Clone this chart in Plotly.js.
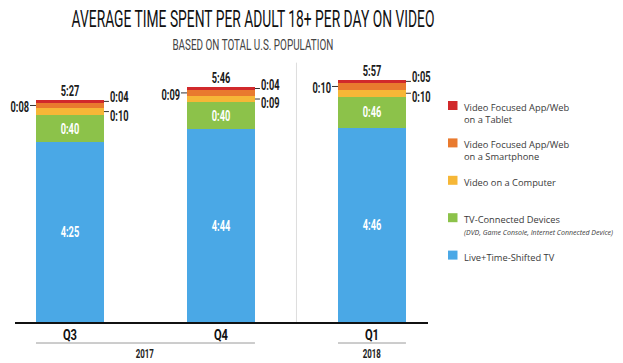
<!DOCTYPE html>
<html><head><meta charset="utf-8">
<script src="https://cdn.plot.ly/plotly-3.0.1.min.js"></script>
<style>html,body{margin:0;padding:0;background:#fff}</style>
</head><body><div id="chart" style="width:623px;height:363px"></div>
<script>
// ---- data (minutes per day) ----
const categories = ['Q3', 'Q4', 'Q1'];
const years = ['2017', '2017', '2018'];
const liveTV = [265, 284, 286];
const tvConnected = [40, 40, 46];
const computer = [10, 9, 10];
const smartphone = [8, 9, 10];
const tablet = [4, 4, 5];
const seriesNames = ['Live+Time-Shifted TV', 'TV-Connected Devices', 'Video on a Computer',
  'Video Focused App/Web<br>on a Smartphone', 'Video Focused App/Web<br>on a Tablet'];
const seriesNotes = ['', '(DVD, Game Console, Internet Connected Device)', '', '', ''];
const colors = ['#4aa8e6', '#8cc24a', '#f6b737', '#e97a2e', '#d1292b'];
const titleText = 'AVERAGE TIME SPENT PER ADULT 18+ PER DAY ON VIDEO';
const subtitleText = 'BASED ON TOTAL U.S. POPULATION';

// ---- helpers ----
const COND = "Roboto,'Liberation Sans',sans-serif";
const LEG = "'Open Sans','Noto Sans',sans-serif";
const SQ = 0.66; // horizontal squeeze for condensed look
const W = 623, H = 363, L = 15, R = 195, T = 60, B = 41;
const PW = W - L - R, PH = H - T - B;
const px2x = p => (p - L) / PW;
const py2y = p => (H - B - p) / PH;
const fmt = m => Math.floor(m / 60) + ':' + String(m % 60).padStart(2, '0');
const bw = 0.45;
const idx = categories.map((_, i) => i);

const series = [liveTV, tvConnected, computer, smartphone, tablet];
const traces = series.map((vals, k) => ({
  type: 'bar', x: idx, y: vals, width: bw, name: seriesNames[k],
  marker: {color: colors[k], line: {width: 0}},
  text: k < 2 ? vals.map(fmt) : null,
  textposition: k < 2 ? 'inside' : 'none',
  insidetextanchor: 'middle', textangle: 0, constraintext: 'none',
  textfont: {family: COND, size: 14, color: '#ffffff', weight: 'bold'},
  hoverinfo: 'skip', showlegend: false
}));

const totals = idx.map(i => series.reduce((s, a) => s + a[i], 0));
const annotations = [];
const shapes = [];
const lblFont = {family: COND, size: 14, color: '#1a1a1a', weight: 'bold'};

idx.forEach(i => {
  annotations.push({name: 'cond', x: i, y: totals[i], xref: 'x', yref: 'y', text: fmt(totals[i]),
    showarrow: false, yanchor: 'bottom', yshift: -1, font: lblFont});
  const base3 = liveTV[i] + tvConnected[i];
  const midComp = base3 + computer[i] / 2;
  const midSmart = base3 + computer[i] + smartphone[i] / 2;
  const midTab = totals[i] - tablet[i] / 2;
  const left = i - bw / 2, right = i + bw / 2;
  shapes.push({type: 'line', xref: 'x', yref: 'y', xsizemode: 'pixel', xanchor: left,
    x0: -6, x1: 0, y0: midSmart, y1: midSmart, line: {color: '#333', width: 1}});
  annotations.push({name: 'cond', x: left, y: midSmart, xref: 'x', yref: 'y', text: fmt(smartphone[i]),
    showarrow: false, xanchor: 'right', xshift: -5, yshift: -2, font: lblFont});
  shapes.push({type: 'line', xref: 'x', yref: 'y', xsizemode: 'pixel', xanchor: right,
    x0: 0, x1: 5, y0: midTab, y1: midTab, line: {color: '#333', width: 1}});
  annotations.push({name: 'cond', x: right, y: midTab, xref: 'x', yref: 'y', text: fmt(tablet[i]),
    showarrow: false, xanchor: 'left', xshift: 4, yshift: 4, font: lblFont});
  shapes.push({type: 'line', xref: 'x', yref: 'y', xsizemode: 'pixel', xanchor: right,
    x0: 0, x1: 5, y0: midComp, y1: midComp, line: {color: '#333', width: 1}});
  annotations.push({name: 'cond', x: right, y: midComp, xref: 'x', yref: 'y', text: fmt(computer[i]),
    showarrow: false, xanchor: 'left', xshift: 4, yshift: -4, font: lblFont});
});

// year grouping
const uniqYears = [...new Set(years)];
uniqYears.forEach(yr => {
  const ids = idx.filter(i => years[i] === yr);
  const a = Math.min(...ids), b = Math.max(...ids);
  shapes.push({type: 'line', xref: 'x', yref: 'paper', x0: a - bw / 2, x1: b + bw / 2,
    y0: py2y(343), y1: py2y(343), line: {color: '#9a9a9a', width: 1}});
  annotations.push({name: 'cond', x: (a + b) / 2, y: py2y(353.5), xref: 'x', yref: 'paper', text: yr,
    showarrow: false, yanchor: 'middle', font: {family: COND, size: 12, color: '#222', weight: 'bold'}});
});
for (let i = 1; i < years.length; i++) {
  if (years[i] !== years[i - 1]) {
    shapes.push({type: 'line', xref: 'x', yref: 'paper', x0: i - 0.5, x1: i - 0.5, y0: 0, y1: 0.99,
      line: {color: '#dedede', width: 1}, layer: 'below'});
  }
}

// custom legend (top-down: reverse stack order)
const order = [4, 3, 2, 1, 0];
order.forEach((k, j) => {
  const cy = 105.5 + j * 37.4;
  shapes.push({type: 'rect', xref: 'paper', yref: 'paper', x0: px2x(448), x1: px2x(457.5),
    y0: py2y(cy - 4.5), y1: py2y(cy + 4.5), fillcolor: colors[k], line: {width: 0}});
  let txt = seriesNames[k];
  if (seriesNotes[k]) txt += '<br><i><span style="font-size:7px">' + seriesNotes[k] + '</span></i>';
  annotations.push({name: 'leg', xref: 'paper', yref: 'paper', x: px2x(462), y: py2y(cy - 6.5),
    xanchor: 'left', yanchor: 'top', align: 'left', showarrow: false, text: txt,
    font: {family: LEG, size: 9.3, color: '#3a3a3a'}});
});

// subtitle
annotations.push({name: 'sub', xref: 'paper', yref: 'paper', x: px2x(253), y: py2y(45), yanchor: 'middle',
  showarrow: false, text: subtitleText,
  font: {family: COND, size: 15, color: '#444'}});

const layout = {
  width: W, height: H, margin: {l: L, r: R, t: T, b: B},
  paper_bgcolor: '#fff', plot_bgcolor: '#fff',
  barmode: 'stack', bargap: 0, showlegend: false,
  title: {text: titleText,
    font: {family: COND, size: 24, color: '#111'},
    xref: 'paper', x: px2x(253), xanchor: 'center', yref: 'container', y: 1 - 19 / H, yanchor: 'middle'},
  xaxis: {range: [-0.364, 2.371], tickvals: idx, ticktext: categories, ticks: '',
    ticklabelstandoff: -3,
    showline: true, linewidth: 2, linecolor: '#111', showgrid: false, zeroline: false,
    tickfont: {family: COND, size: 15.5, color: '#111', weight: 'bold'}, fixedrange: true},
  yaxis: {range: [0, 386], visible: false, fixedrange: true},
  annotations, shapes
};

// horizontal squeeze of text to imitate the condensed display face
function squeeze(el, s, mode) {
  const bb = el.getBBox();
  const cx = mode === 'left' ? bb.x : mode === 'right' ? bb.x + bb.width : bb.x + bb.width / 2;
  const prev = el.getAttribute('transform') || '';
  el.setAttribute('transform', prev + ' translate(' + cx + ',0) scale(' + s + ',1) translate(' + (-cx) + ',0)');
}

const gd = document.getElementById('chart');
Plotly.newPlot(gd, traces, layout, {displayModeBar: false, staticPlot: true}).then(() => {
  const t = gd.querySelector('.gtitle');
  if (t) squeeze(t, 363 / t.getBBox().width, 'center');
  gd.querySelectorAll('g.annotation').forEach(g => {
    const i = +g.getAttribute('data-index');
    const a = gd.layout.annotations[i];
    const txt = g.querySelector('text');
    if (!a || !txt) return;
    if (a.name === 'cond') squeeze(txt, SQ, a.xanchor || 'center');
    else if (a.name === 'sub') squeeze(txt, 161 / txt.getBBox().width, 'center');
  });
  gd.querySelectorAll('.xtick text').forEach(el => squeeze(el, 0.72, 'center'));
  gd.querySelectorAll('.bartext').forEach(el => squeeze(el, SQ, 'center'));
});
</script></body></html>
